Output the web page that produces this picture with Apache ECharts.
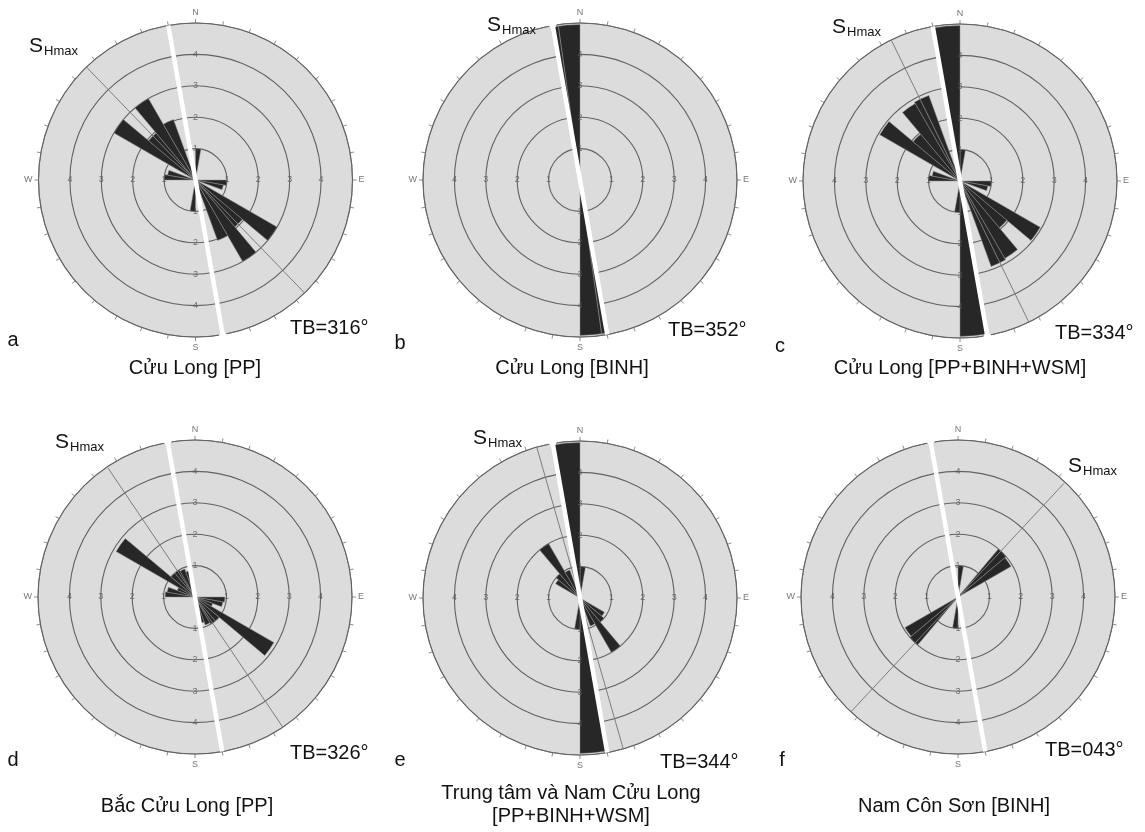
<!DOCTYPE html>
<html><head><meta charset="utf-8">
<script src="https://cdn.jsdelivr.net/npm/echarts@6/dist/echarts.min.js"></script>
<style>html,body{margin:0;padding:0;background:#fff}#chart{width:1145px;height:832px}</style>
</head><body><div id="chart"></div>
<script>
// ---------------- data ----------------
const binLabels = ['0','10','20','30','40','50','60','70','80','90','100','110','120','130','140','150','160','170',
                   '180','190','200','210','220','230','240','250','260','270','280','290','300','310','320','330','340','350'];
const valuesA = [1.0,0,0,0,0,0,0,0,0,1.0,0.9,0,3.0,1.95,3.0,2.05,0,0,
                 1.0,0,0,0,0,0,0,0,0,1.0,0.9,0,3.0,1.95,3.0,2.05,0,0];
const valuesB = [0,0,0,0,0,0,0,0,0,0,0,0,0,0,0,0,0,4.95,
                 0,0,0,0,0,0,0,0,0,0,0,0,0,0,0,0,0,4.95];
const valuesC = [1.0,0,0,0,0,0,0,0,0,1.0,0.9,0,2.95,1.95,2.85,2.9,0,4.95,
                 1.0,0,0,0,0,0,0,0,0,1.0,0.9,0,2.95,1.95,2.85,2.9,0,4.95];
const valuesD = [0,0,0,0,0,0,0,0,0,0.95,0.9,0.6,2.9,1.0,1.0,0.95,0.85,0,
                 0,0,0,0,0,0,0,0,0,0.95,0.9,0.6,2.9,1.0,1.0,0.95,0.85,0];
const valuesE = [1.0,0,0,0,0,0,0,0,0,0,0,0,0.9,1.0,2.0,0.95,0,4.95,
                 1.0,0,0,0,0,0,0,0,0,0,0,0,0.9,1.0,2.0,0.95,0,4.95];
const valuesF = [1.0,0,0,0,2.0,1.95,0,0,0,0,0,0,0,0,0,0,0,0,
                 1.0,0,0,0,2.0,1.95,0,0,0,0,0,0,0,0,0,0,0,0];
const shmaxAngles = [316, 352, 334, 326, 344, 43];
const whiteLineAngles = [350, 350, 350, 350, 350, 350];
const tbLabels = ['TB=316°','TB=352°','TB=334°','TB=326°','TB=344°','TB=043°'];
const panelLetters = ['a','b','c','d','e','f'];
const titles = [['Cửu Long [PP]'],['Cửu Long [BINH]'],['Cửu Long [PP+BINH+WSM]'],
                ['Bắc Cửu Long [PP]'],['Trung tâm và Nam Cửu Long','[PP+BINH+WSM]'],['Nam Côn Sơn [BINH]']];
const ringValues = [1,2,3,4];
const cardinalAngles = [0,90,180,270];
const cardinalNames = ['N','E','S','W'];
const allValues = [valuesA, valuesB, valuesC, valuesD, valuesE, valuesF];

// ---------------- layout ----------------
const R = 157;
const layout = [
  {center:[195.5,180], diamondTop:false, shNear:5.0, shFar:5.45, letter:[13,340], tb:[290,328], title:[195,[368]],  s:[29,46]},
  {center:[580,180],   diamondTop:true,  shNear:5.45,shFar:5.45, letter:[400,343], tb:[668,330], title:[572,[368]], s:[487,25]},
  {center:[960,181],   diamondTop:false, shNear:5.1, shFar:5.45, letter:[780,346], tb:[1055,333], title:[960,[368]], s:[832,27.5]},
  {center:[195,597],   diamondTop:true,  shNear:4.95,shFar:5.35, letter:[13,760], tb:[290,753], title:[187,[806]],  s:[55,442.5]},
  {center:[580,598],   diamondTop:true,  shNear:5.45,shFar:5.45, letter:[400,760], tb:[660,762], title:[571,[793,816]], s:[473,438.5]},
  {center:[958,597],   diamondTop:true,  shNear:4.95,shFar:5.45, letter:[782,760], tb:[1045,750], title:[954,[806]], s:[1068,466.5]}
];

const FONT = '"Liberation Sans", Arial, sans-serif';
const polar = [], angleAxis = [], radiusAxis = [], series = [], graphic = [];

function txt(x, y, text, size, align) {
  graphic.push({type:'text', x:x, y:y, z:100, silent:true,
    style:{text:text, font: size + 'px ' + FONT, fill:'#111',
           align:align, textAlign:align, verticalAlign:'middle', textVerticalAlign:'middle'}});
}

layout.forEach((p, k) => {
  const bi = 2*k, oi = 2*k + 1;
  polar.push({center:p.center, radius:R});
  polar.push({center:p.center, radius:R});
  angleAxis.push({polarIndex:bi, type:'category', data:binLabels, startAngle:90, clockwise:true, boundaryGap:true,
    axisLine:{show:false}, axisTick:{show:false}, axisLabel:{show:false}, splitLine:{show:false}});
  radiusAxis.push({polarIndex:bi, type:'value', min:0, max:5, interval:1,
    axisLine:{show:false}, axisTick:{show:false}, axisLabel:{show:false},
    splitLine:{show:false},
    splitArea:{show:true, areaStyle:{color:['#dcdcdc']}}});
  angleAxis.push({polarIndex:oi, type:'value', min:0, max:360, interval:10, startAngle:90, clockwise:true,
    axisLine:{show:true, lineStyle:{color:'#8c8c8c', width:1}},
    axisTick:{show:true, length:4, lineStyle:{color:'#8c8c8c', width:1}},
    axisLabel:{show:true, margin:6, color:'#777', fontSize:9, fontFamily:FONT,
      formatter: v => { const i = cardinalAngles.indexOf(v); return i >= 0 ? cardinalNames[i] : ''; }},
    splitLine:{show:false}});
  radiusAxis.push({polarIndex:oi, type:'value', min:0, max:5, interval:1, z:1,
    axisLine:{show:false}, axisTick:{show:false}, axisLabel:{show:false},
    splitLine:{show:true, lineStyle:{color:'#626262', width:1.1}}});

  // petals
  series.push({type:'bar', coordinateSystem:'polar', polarIndex:bi, data:allValues[k],
    barCategoryGap:'0%', z:2, silent:true,
    itemStyle:{color:'#272727', borderColor:'#8f8f8f', borderWidth:0.5}});

  // radius labels on the four cardinal axes
  const rl = [];
  cardinalAngles.forEach(a => ringValues.forEach(r => rl.push([r, a])));
  series.push({type:'scatter', coordinateSystem:'polar', polarIndex:oi, data:rl, symbolSize:1, z:3, silent:true,
    itemStyle:{color:'rgba(0,0,0,0)'},
    label:{show:true, position:'inside', formatter: q => String(q.value[0]), color:'#555', fontSize:9, fontFamily:FONT}});

  // longer ticks at the cardinal directions
  cardinalAngles.forEach(a => series.push({type:'line', coordinateSystem:'polar', polarIndex:oi, clip:false, z:3, silent:true,
    symbol:'none', lineStyle:{color:'#8c8c8c', width:1}, data:[[5.0, a],[5.2, a]]}));

  // SHmax gray line
  const s = shmaxAngles[k];
  series.push({type:'line', coordinateSystem:'polar', polarIndex:oi, clip:false, z:4, silent:true,
    symbol:'none', lineStyle:{color:'#7d7d7d', width:1},
    data:[[p.shNear, s],[0, s],[p.shFar, (s + 180) % 360]]});

  // white line with diamond
  const w = whiteLineAngles[k], w2 = (w + 180) % 360;
  const dia = {symbol:'diamond', symbolSize:[9,12], symbolRotate: -(w % 180) + 180};
  series.push({type:'line', coordinateSystem:'polar', polarIndex:oi, clip:false, z:5, silent:true,
    symbol:'none', showSymbol:true, lineStyle:{color:'#ffffff', width:4.5}, itemStyle:{color:'#ffffff'},
    data:[ Object.assign({value:[5.03, w]}, p.diamondTop ? dia : {symbol:'none'}),
           [0, w],
           Object.assign({value:[5.03, w2]}, p.diamondTop ? {symbol:'none'} : dia) ]});
  // extension marks beyond the circle
  [w, w2].forEach(a => series.push({type:'line', coordinateSystem:'polar', polarIndex:oi, clip:false, z:5, silent:true,
    symbol:'none', lineStyle:{color:'#555', width:1}, data:[[5.33, a],[5.48, a]]}));

  // texts
  txt(p.letter[0], p.letter[1], panelLetters[k], 20, 'center');
  txt(p.tb[0], p.tb[1], tbLabels[k], 20, 'left');
  titles[k].forEach((t, j) => txt(p.title[0], p.title[1][j], t, 20, 'center'));
  txt(p.s[0], p.s[1], 'S', 21, 'left');
  txt(p.s[0] + 15, p.s[1] + 5, 'Hmax', 13, 'left');
});

const chart = echarts.init(document.getElementById('chart'), null, {renderer:'canvas'});
chart.setOption({
  animation:false,
  backgroundColor:'#ffffff',
  polar: polar, angleAxis: angleAxis, radiusAxis: radiusAxis,
  series: series, graphic: graphic
});
</script></body></html>
